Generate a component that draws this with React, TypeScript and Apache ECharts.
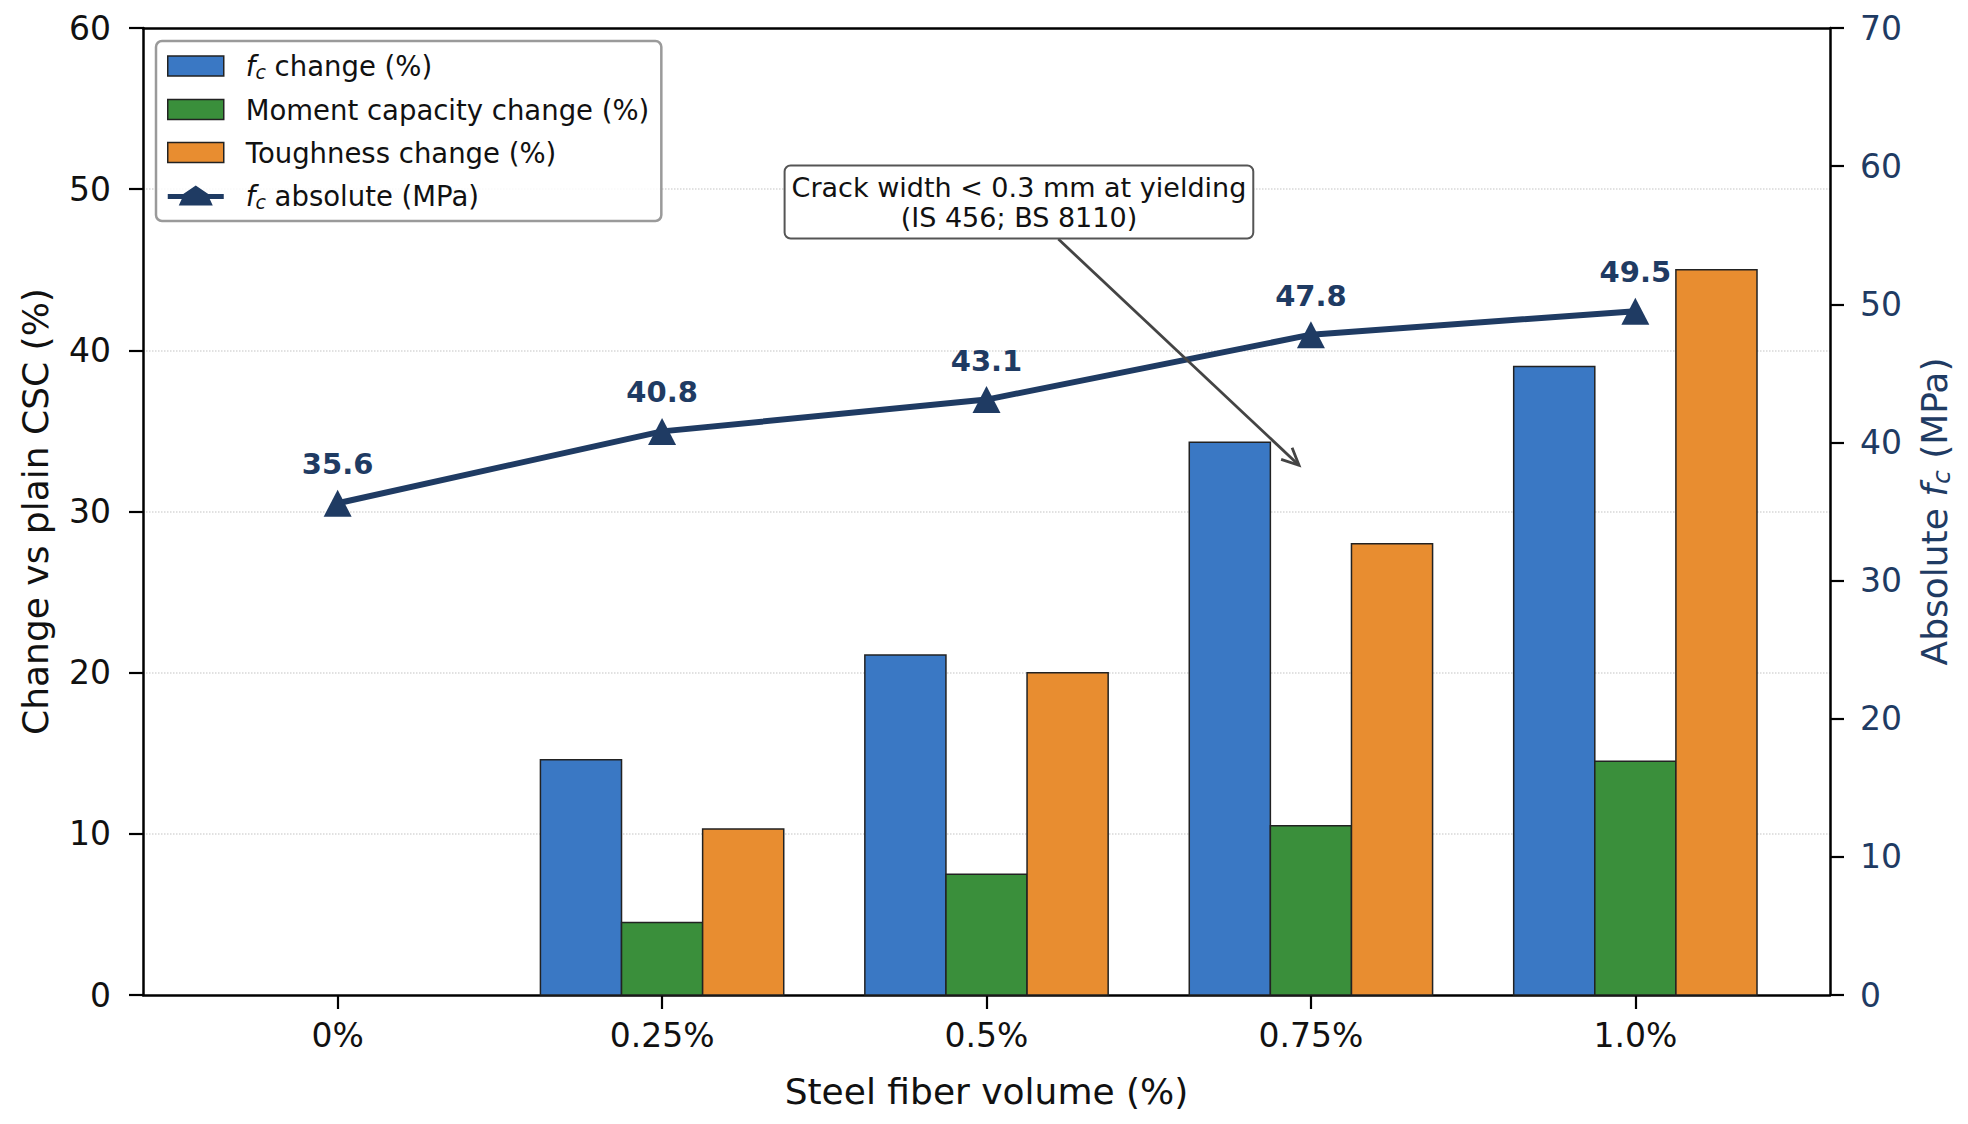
import React, { useEffect, useRef } from "react";
import * as echarts from "echarts";

// ---- data ----
const categories = ["0%", "0.25%", "0.5%", "0.75%", "1.0%"];
const fcChange = [0, 14.6, 21.1, 34.3, 39.0];
const momentChange = [0, 4.5, 7.5, 10.5, 14.5];
const toughnessChange = [0, 10.3, 20.0, 28.0, 45.0];
const fcAbsolute = [35.6, 40.8, 43.1, 47.8, 49.5];
const leftAxisRange = [0, 60];
const rightAxisRange = [0, 70];
const tickStep = 10;
const annotationText = "Crack width < 0.3 mm at yielding\n(IS 456; BS 8110)";
const annotationTarget = [2.97, 38.2]; // (x index, right-axis value)
const annotationTextAt = [2.1, 57.4];

const FONT = "DejaVu Sans";
const NAVY = "#1f3b63";
const BLUE = "#3a78c4";
const GREEN = "#3a8f3b";
const ORANGE = "#e88d30";

const names = {
  fc: "fc change (%)",
  mom: "Moment capacity change (%)",
  tou: "Toughness change (%)",
  abs: "fc absolute (MPa)",
};

// legend icon: thick line with a triangle marker
const LINE_ICON = "path://M0,8.5L15.5,8.5L28,0L40.5,8.5L56,8.5L56,13.5L42,13.5L45,20L11,20L14,13.5L0,13.5Z";

function barSeries(name: string, values: number[], offset: number, color: string) {
  return {
    type: "custom",
    name,
    xAxisIndex: 0,
    yAxisIndex: 0,
    itemStyle: { color, borderColor: "#222", borderWidth: 1.5 },
    data: values.map((v, i) => [i + offset, v]),
    z: 3,
    renderItem: (params: any, api: any) => {
      const x = api.value(0);
      const y = api.value(1);
      if (!y) return null;
      const p0 = api.coord([x - 0.125, 0]);
      const p1 = api.coord([x + 0.125, y]);
      return {
        type: "rect",
        shape: { x: p0[0], y: p1[1], width: p1[0] - p0[0], height: p0[1] - p1[1] },
        style: { fill: color, stroke: "#222", lineWidth: 1.5 },
      };
    },
  };
}

export default function App() {
  const ref = useRef<HTMLDivElement>(null);
  useEffect(() => {
    document.body.style.margin = "0";
    const chart = echarts.init(ref.current!, null, { renderer: "svg" });
    const idx = categories.map((_, i) => i);
    const option: any = {
      animation: false,
      backgroundColor: "#fff",
      textStyle: { fontFamily: FONT },
      grid: {
        left: 143,
        right: 138,
        top: 28,
        bottom: 129,
        show: false,
      },
      legend: {
        orient: "vertical",
        left: 156,
        top: 41,
        padding: [10, 12, 10, 11],
        itemGap: 13,
        itemWidth: 56,
        itemHeight: 20,
        backgroundColor: "rgba(255,255,255,0.85)",
        borderColor: "#9a9a9a",
        borderWidth: 2.5,
        borderRadius: 6,
        data: [
          { name: names.fc, icon: "rect", itemStyle: { color: BLUE, borderColor: "#222", borderWidth: 1.5 } },
          { name: names.mom, icon: "rect", itemStyle: { color: GREEN, borderColor: "#222", borderWidth: 1.5 } },
          { name: names.tou, icon: "rect", itemStyle: { color: ORANGE, borderColor: "#222", borderWidth: 1.5 } },
          { name: names.abs, icon: LINE_ICON, itemStyle: { color: NAVY, borderWidth: 0 } },
        ],
        formatter: (n: string) => {
          if (n === names.fc) return "{i|f}{s|c}{n| change (%)}";
          if (n === names.abs) return "{i|f}{s|c}{n| absolute (MPa)}";
          return "{n|" + n + "}";
        },
        textStyle: {
          fontFamily: FONT,
          fontSize: 27.5,
          color: "#111",
          lineHeight: 30,
          padding: [0, 0, 0, 17],
          rich: {
            i: { fontFamily: FONT, fontStyle: "italic", fontSize: 27.5, color: "#111" },
            s: { fontFamily: FONT, fontStyle: "italic", fontSize: 19, color: "#111", padding: [12, 0, 0, 0] },
            n: { fontFamily: FONT, fontSize: 27.5, color: "#111" },
          },
        },
      },
      xAxis: [
        {
          type: "value",
          min: -0.6,
          max: 4.6,
          position: "bottom",
          name: "Steel fiber volume (%)",
          nameLocation: "middle",
          nameGap: 78,
          nameTextStyle: { fontFamily: FONT, fontSize: 36, color: "#111" },
          axisLine: { show: true, onZero: false, lineStyle: { color: "#000", width: 2.5 } },
          axisTick: { show: true, customValues: idx, length: 14, lineStyle: { color: "#000", width: 2.2 } },
          axisLabel: {
            customValues: idx,
            formatter: (v: number) => categories[Math.round(v)] ?? "",
            fontFamily: FONT,
            fontSize: 33,
            color: "#111",
            margin: 24,
          },
          splitLine: { show: false },
        },
        {
          type: "value",
          min: -0.6,
          max: 4.6,
          position: "top",
          axisLine: { show: true, onZero: false, lineStyle: { color: "#000", width: 2.5 } },
          axisTick: { show: false },
          axisLabel: { show: false },
          splitLine: { show: false },
        },
      ],
      yAxis: [
        {
          type: "value",
          min: leftAxisRange[0],
          max: leftAxisRange[1],
          interval: tickStep,
          position: "left",
          name: "Change vs plain CSC (%)",
          nameLocation: "middle",
          nameRotate: 90,
          nameGap: 90,
          nameTextStyle: { fontFamily: FONT, fontSize: 36, color: "#111" },
          axisLine: { show: true, onZero: false, lineStyle: { color: "#000", width: 2.5 } },
          axisTick: { show: true, length: 14, lineStyle: { color: "#000", width: 2.2 } },
          axisLabel: { fontFamily: FONT, fontSize: 33, color: "#111", margin: 32 },
          splitLine: {
            show: true,
            showMinLine: false,
            showMaxLine: false,
            lineStyle: { color: "#d8d8d8", type: "dotted", width: 1.5 },
          },
        },
        {
          type: "value",
          min: rightAxisRange[0],
          max: rightAxisRange[1],
          interval: tickStep,
          position: "right",
          name: "{n|Absolute }{i|f}{s|c}{n| (MPa)}",
          nameLocation: "middle",
          nameRotate: 90,
          nameGap: 85,
          nameTextStyle: {
            fontFamily: FONT,
            fontSize: 36,
            color: NAVY,
            rich: {
              n: { fontFamily: FONT, fontSize: 36, color: NAVY },
              i: { fontFamily: FONT, fontSize: 36, color: NAVY, fontStyle: "italic" },
              s: { fontFamily: FONT, fontSize: 25, color: NAVY, fontStyle: "italic", padding: [14, 0, 0, 0] },
            },
          },
          axisLine: { show: true, onZero: false, lineStyle: { color: "#000", width: 2.5 } },
          axisTick: { show: true, length: 14, lineStyle: { color: "#000", width: 2.2 } },
          axisLabel: { fontFamily: FONT, fontSize: 33, color: NAVY, margin: 30 },
          splitLine: { show: false },
        },
      ],
      series: [
        barSeries(names.fc, fcChange, -0.25, BLUE),
        barSeries(names.mom, momentChange, 0, GREEN),
        barSeries(names.tou, toughnessChange, 0.25, ORANGE),
        {
          type: "line",
          name: names.abs,
          xAxisIndex: 0,
          yAxisIndex: 1,
          data: fcAbsolute.map((v, i) => [i, v]),
          symbol: "triangle",
          symbolSize: [28, 27],
          itemStyle: { color: NAVY },
          lineStyle: { color: NAVY, width: 6 },
          z: 5,
          label: {
            show: true,
            position: "top",
            distance: 11,
            fontFamily: FONT,
            fontWeight: "bold",
            fontSize: 29,
            color: NAVY,
            formatter: (p: any) => p.value[1].toFixed(1),
          },
        },
      ],
    };
    chart.setOption(option);

    // annotation box + arrow placed through the axis scales
    const c = chart.convertToPixel({ xAxisIndex: 0, yAxisIndex: 1 }, annotationTextAt) as number[];
    const t = chart.convertToPixel({ xAxisIndex: 0, yAxisIndex: 1 }, annotationTarget) as number[];
    const halfH = 37;
    const r = halfH / (t[1] - c[1]);
    const sx = c[0] + (t[0] - c[0]) * r;
    const sy = c[1] + halfH;
    const dx = t[0] - sx;
    const dy = t[1] - sy;
    const len = Math.hypot(dx, dy);
    const ux = dx / len;
    const uy = dy / len;
    const ex = t[0] - ux * 3;
    const ey = t[1] - uy * 3;
    const hl = 17;
    const hw = 8;
    const bx = ex - ux * hl;
    const by = ey - uy * hl;
    chart.setOption({
      graphic: [
        {
          type: "line",
          z: 20,
          shape: { x1: sx, y1: sy, x2: ex, y2: ey },
          style: { stroke: "#444", lineWidth: 2.8 },
        },
        {
          type: "polyline",
          z: 20,
          shape: {
            points: [
              [bx - uy * hw, by + ux * hw],
              [ex, ey],
              [bx + uy * hw, by - ux * hw],
            ],
          },
          style: { stroke: "#444", lineWidth: 2.8, fill: null },
        },
        {
          type: "text",
          z: 21,
          x: c[0],
          y: c[1],
          style: {
            text: annotationText,
            fontFamily: FONT,
            fontSize: 27,
            lineHeight: 30,
            fill: "#111",
            align: "center",
            verticalAlign: "middle",
            backgroundColor: "#fff",
            borderColor: "#555",
            borderWidth: 2,
            borderRadius: 5,
            padding: [6, 6, 5, 6],
          },
        },
      ],
    });
    return () => chart.dispose();
  }, []);
  return <div ref={ref} style={{ width: 1968, height: 1124 }} />;
}
